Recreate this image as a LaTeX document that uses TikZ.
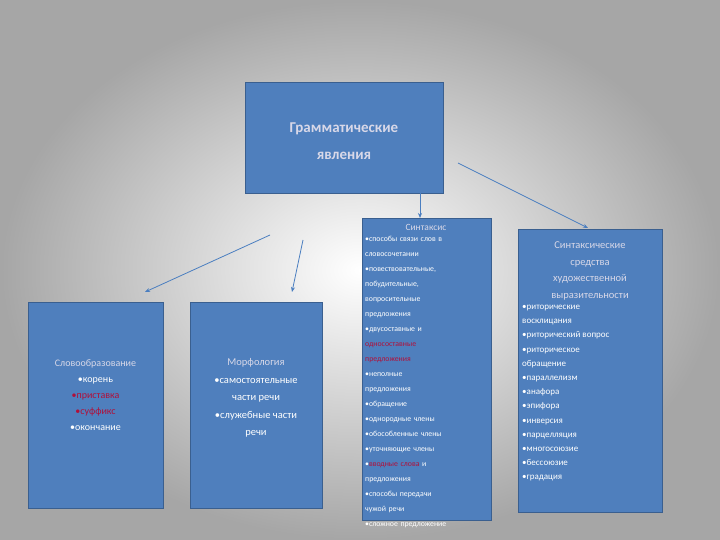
\documentclass[tikz,border=0pt]{standalone}
\usepackage{fontspec}
\setmainfont{Carlito}
\usetikzlibrary{arrows.meta}
\definecolor{boxblue}{HTML}{4F7FBD}
\definecolor{boxedge}{HTML}{3A5F8F}
\definecolor{head}{HTML}{D8D8E8}
\definecolor{redtxt}{HTML}{B0103A}
\definecolor{arr}{HTML}{4A7EC0}
\tikzset{
  box/.style={draw=boxedge, line width=1pt, fill=boxblue, anchor=north west, inner sep=3pt, text=white},
  con/.style={draw=arr, line width=0.8pt, -{Stealth[length=5pt,width=4pt]}}
}
\begin{document}
\begin{tikzpicture}[x=1pt,y=-1pt]
\shade[inner color=white, outer color=gray!70] (0,0) rectangle (720,540);
\useasboundingbox (0,0) rectangle (720,540);
\node[box, minimum width=198pt, minimum height=111pt, align=center, text=head, font=\bfseries\fontsize{15}{27}\selectfont] (top) at (245,82) {};
\node[text=head, align=center, font=\bfseries\fontsize{15}{27}\selectfont] (toptxt) at (344,141) {Грамматические\\явления};
\node[box, minimum width=135pt, minimum height=206pt] (slovo) at (28,302) {};
\node[align=center, text=white, font=\fontsize{10}{16}\selectfont] (slovotxt) at (95.5,395) {\textcolor{head}{Словообразование}\\•корень\\\textcolor{redtxt}{•приставка}\\\textcolor{redtxt}{•суффикс}\\•окончание};
\node[box, minimum width=132pt, minimum height=206pt] (morf) at (190,302) {};
\node[align=center, text=white, font=\fontsize{10.5}{17.5}\selectfont] (morftxt) at (256,398) {\textcolor{head}{Морфология}\\•самостоятельные\\части речи\\•служебные части\\речи};
\node[box, minimum width=129pt, minimum height=302pt] (sint) at (362,218) {};
\node[text=head, font=\fontsize{9.5}{11}\selectfont] (sinthead) at (426,227) {Синтаксис};
\node[anchor=north west, align=left, text=white, text width=125pt, inner sep=0pt, font=\fontsize{7.8}{15}\selectfont] (sinttxt) at (365,236) {•способы связи слов в\\словосочетании\\•повествовательные,\\побудительные,\\вопросительные\\предложения\\•двусоставные и\\\textcolor{redtxt}{односоставные}\\\textcolor{redtxt}{предложения}\\•неполные\\предложения\\•обращение\\•однородные члены\\•обособленные члены\\•уточняющие члены\\•\textcolor{redtxt}{вводные слова} и\\предложения\\•способы передачи\\чужой речи\\•сложное предложение};
\node[box, minimum width=144pt, minimum height=283pt] (sred) at (518,229) {};
\node[text=head, align=center, font=\fontsize{10.5}{16.5}\selectfont] (sredhead) at (590,271) {Синтаксические\\средства\\художественной\\выразительности};
\node[anchor=north west, align=left, text=white, inner sep=0pt, font=\fontsize{9}{14.2}\selectfont] (sredtxt) at (522,305) {•риторические\\восклицания\\•риторический вопрос\\•риторическое\\обращение\\•параллелизм\\•анафора\\•эпифора\\•инверсия\\•парцелляция\\•многосоюзие\\•бессоюзие\\•градация};
\coordinate (a1) at (270,235);
\coordinate (a2) at (303,240);
\coordinate (a3) at (420,193);
\coordinate (a4) at (458,163);
\draw[con] (a1) -- (145,292);
\draw[con] (a2) -- (292,292);
\draw[con] (a3) -- (sint.north -| a3);
\draw[con] (a4) -- (588,228);
\end{tikzpicture}
\end{document}
